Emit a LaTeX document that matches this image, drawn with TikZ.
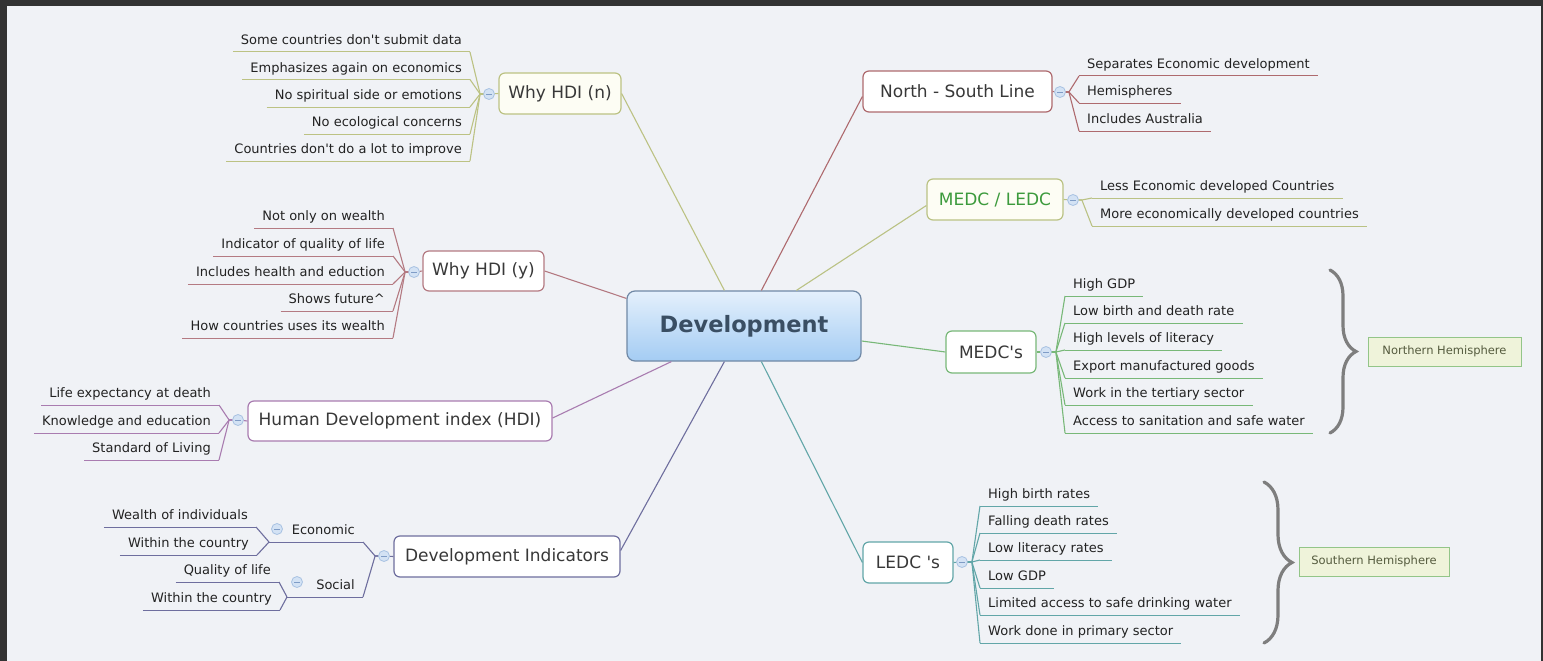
\documentclass[tikz,border=0pt]{standalone}
\usepackage{fontspec}
\setmainfont{DejaVu Sans}
\usetikzlibrary{decorations.pathreplacing,calc}
\newcommand{\apo}{\textquotesingle}
\definecolor{bg}{HTML}{F0F2F6}
\definecolor{framec}{HTML}{333333}
\definecolor{cN}{HTML}{BCC283}
\definecolor{cY}{HTML}{B47A82}
\definecolor{cH}{HTML}{A97CB0}
\definecolor{cI}{HTML}{6E6E9E}
\definecolor{cS}{HTML}{AE6A6E}
\definecolor{cM}{HTML}{BAC284}
\definecolor{cG}{HTML}{78B878}
\definecolor{cT}{HTML}{62A6A8}
\definecolor{btnfill}{HTML}{D3E2F4}
\definecolor{btnline}{HTML}{A8C2E2}
\definecolor{btndash}{HTML}{7F9CC6}
\definecolor{txt}{HTML}{222222}
\definecolor{boxtxt}{HTML}{383838}
\definecolor{devtxt}{HTML}{3A4E63}
\definecolor{devtop}{HTML}{E4F0FC}
\definecolor{devbot}{HTML}{A4CCF3}
\definecolor{devline}{HTML}{7089A6}
\definecolor{cream}{HTML}{FDFDF4}
\definecolor{hemfill}{HTML}{EFF3DA}
\definecolor{hemline}{HTML}{93C588}
\definecolor{hemtxt}{HTML}{555B3E}
\definecolor{bracec}{HTML}{7E7E7E}
\definecolor{medctxt}{HTML}{3C9A3C}
\tikzset{
  topicbox/.style={draw=#1, line width=1.2pt, rounded corners=6pt, fill=white, text=boxtxt,
    font=\fontsize{17}{20}\selectfont, inner sep=0pt, align=center},
  leafL/.style={anchor=south east, inner xsep=8pt, inner ysep=3pt, text height=10pt, text depth=4pt,
    font=\fontsize{13}{15}\selectfont, text=txt},
  leafR/.style={leafL, anchor=south west},
  btn/.style={circle, draw=btnline, fill=btnfill, line width=0.8pt, minimum size=11pt, inner sep=0pt,
    path picture={\draw[btndash, line width=0.9pt]
      ([xshift=-3pt]path picture bounding box.center) -- ([xshift=3pt]path picture bounding box.center);}},
  conn/.style={draw=#1, line width=1.1pt, line join=round},
  uline/.style={draw=#1, line width=1pt},
  hemi/.style={draw=hemline, fill=hemfill, line width=1pt, text=hemtxt,
    font=\fontsize{11.5}{13}\selectfont, inner sep=0pt},
  bracestyle/.style={draw=bracec, line width=3.2pt, line cap=round, decorate, decoration={brace, amplitude=#1}}
}
\begin{document}
\begin{tikzpicture}[x=1pt,y=-1pt]
% background and frame
\fill[bg] (0,0) rectangle (1543,661);
\fill[framec] (0,0) rectangle (1543,6);
\fill[framec] (0,0) rectangle (7,661);
\fill[framec] (1541,0) rectangle (1543,661);
\useasboundingbox (0,0) rectangle (1543,661);

% central topic
\node[draw=devline, line width=1.2pt, rounded corners=8pt, top color=devtop, bottom color=devbot,
  minimum width=234pt, minimum height=70pt, text=devtxt,
  font=\fontsize{22.5}{26}\selectfont\bfseries] (dev) at (744,326) {Development};

% main topics
\node[topicbox=cN, fill=cream, minimum width=122pt, minimum height=41pt] (whyn) at (560,93.5) {Why HDI (n)};
\node[topicbox=cY, minimum width=121pt, minimum height=40pt] (whyy) at (483.5,271) {Why HDI (y)};
\node[topicbox=cH, minimum width=304pt, minimum height=40pt] (hdi) at (400,421) {Human Development index (HDI)};
\node[topicbox=cI, minimum width=226pt, minimum height=41pt] (devind) at (507,556.5) {Development Indicators};
\node[topicbox=cS, minimum width=189pt, minimum height=41pt] (ns) at (957.5,91.5) {North - South Line};
\node[topicbox=cM, fill=cream, text=medctxt, minimum width=136pt, minimum height=41pt] (ml) at (995,199.5) {MEDC / LEDC};
\node[topicbox=cG, minimum width=90pt, minimum height=42pt] (medcs) at (991,352) {MEDC\apo s};
\node[topicbox=cT, minimum width=90pt, minimum height=41pt] (ledcs) at (908,562.5) {LEDC \apo s};

% connectors from the central topic
\draw[conn=cN] ([xshift=98pt]dev.north west) -- (whyn.east);
\draw[conn=cS] ([xshift=135pt]dev.north west) -- ([yshift=-5pt]ns.west);
\draw[conn=cM] ([xshift=170pt]dev.north west) -- ([yshift=-6pt]ml.west);
\draw[conn=cY] (whyy.east) -- ([yshift=-8pt]dev.north west);
\draw[conn=cG] ([yshift=-15pt]dev.east) -- (medcs.west);
\draw[conn=cH] ([xshift=45pt]dev.south west) -- ([yshift=3pt]hdi.east);
\draw[conn=cI] ([xshift=98pt]dev.south west) -- ([yshift=6pt]devind.east);
\draw[conn=cT] ([xshift=135pt]dev.south west) -- (ledcs.west);

% buttons
\node[btn] (bwhyn) at (489,94) {};
\node[btn] (bwhyy) at (414,272) {};
\node[btn] (bhdi) at (238,420) {};
\node[btn] (bdi) at (384,556) {};
\node[btn] (bns) at (1060,92) {};
\node[btn] (bml) at (1073,200) {};
\node[btn] (bmedcs) at (1046,352) {};
\node[btn] (bledcs) at (962,562) {};
\draw[conn=cN] (bwhyn) -- (whyn.west);
\draw[conn=cY] (bwhyy) -- (whyy.west);
\draw[conn=cH] (bhdi) -- (hdi.west);
\draw[conn=cI] (bdi) -- (devind.west);
\draw[conn=cS] (bns) -- (ns.east);
\draw[conn=cM] (bml) -- (ml.east);
\draw[conn=cG] (bmedcs) -- (medcs.east);
\draw[conn=cT] (bledcs) -- (ledcs.east);

% Why HDI (n) leaves
\foreach \u/\t [count=\i] in {52/Some countries don\apo t submit data, 79.5/Emphasizes again on economics,
  107/No spiritual side or emotions, 134/No ecological concerns, 161/Countries don\apo t do a lot to improve}{
  \node[leafL] (n\i) at (470,\u) {\t};
  \draw[uline=cN] (n\i.south west) -- (n\i.south east);
  \draw[conn=cN] (bwhyn.west) -- ++(-3,0) -- (n\i.south east);
}

% Why HDI (y) leaves
\foreach \u/\t [count=\i] in {228/Not only on wealth, 256/Indicator of quality of life,
  284/Includes health and eduction, 311/Shows future\textasciicircum, 338/How countries uses its wealth}{
  \node[leafL] (y\i) at (393,\u) {\t};
  \draw[uline=cY] (y\i.south west) -- (y\i.south east);
  \draw[conn=cY] (bwhyy.west) -- ++(-3,0) -- (y\i.south east);
}

% HDI leaves
\foreach \u/\t [count=\i] in {405/Life expectancy at death, 433/Knowledge and education, 460/Standard of Living}{
  \node[leafL] (h\i) at (219,\u) {\t};
  \draw[uline=cH] (h\i.south west) -- (h\i.south east);
  \draw[conn=cH] (bhdi.west) -- ++(-3,0) -- (h\i.south east);
}

% Development Indicators subtopics
\node[leafL] (eco) at (363,542) {Economic};
\node[leafL] (soc) at (363,597) {Social};
\coordinate (ecoL) at (269,542);
\coordinate (socL) at (287,597);
\draw[uline=cI] (ecoL) -- (eco.south east);
\draw[uline=cI] (socL) -- (soc.south east);
\draw[conn=cI] (bdi.west) -- ++(-3,0) -- (eco.south east);
\draw[conn=cI] (bdi.west) -- ++(-3,0) -- (soc.south east);
\node[btn] (beco) at (277,529) {};
\node[btn] (bsoc) at (297,582) {};
\node[leafL] (e1) at (256,527) {Wealth of individuals};
\node[leafL] (e2) at (257,555) {Within the country};
\node[leafL] (s1) at (279,582) {Quality of life};
\node[leafL] (s2) at (280,610) {Within the country};
\foreach \n in {e1,e2}{
  \draw[uline=cI] (\n.south west) -- (\n.south east);
  \draw[conn=cI] (ecoL) -- (\n.south east);
}
\foreach \n in {s1,s2}{
  \draw[uline=cI] (\n.south west) -- (\n.south east);
  \draw[conn=cI] (socL) -- (\n.south east);
}

% North - South Line leaves
\foreach \u/\t [count=\i] in {76/Separates Economic development, 103/Hemispheres, 131/Includes Australia}{
  \node[leafR] (r\i) at (1079,\u) {\t};
  \draw[uline=cS] (r\i.south west) -- (r\i.south east);
  \draw[conn=cS] (bns.east) -- ++(3,0) -- (r\i.south west);
}

% MEDC / LEDC leaves
\foreach \u/\t [count=\i] in {198/Less Economic developed Countries, 226/More economically developed countries}{
  \node[leafR] (m\i) at (1092,\u) {\t};
  \draw[uline=cM] (m\i.south west) -- (m\i.south east);
  \draw[conn=cM] (bml.east) -- ++(3,0) -- (m\i.south west);
}

% MEDC's leaves
\foreach \u/\t [count=\i] in {296/High GDP, 323/Low birth and death rate, 350/High levels of literacy,
  378/Export manufactured goods, 405/Work in the tertiary sector, 433/Access to sanitation and safe water}{
  \node[leafR] (g\i) at (1065,\u) {\t};
  \draw[uline=cG] (g\i.south west) -- (g\i.south east);
  \draw[conn=cG] (bmedcs.east) -- ++(4,0) -- (g\i.south west);
}

% LEDC's leaves
\foreach \u/\t [count=\i] in {506/High birth rates, 533/Falling death rates, 560/Low literacy rates,
  588/Low GDP, 615/Limited access to safe drinking water, 643/Work done in primary sector}{
  \node[leafR] (t\i) at (980,\u) {\t};
  \draw[uline=cT] (t\i.south west) -- (t\i.south east);
  \draw[conn=cT] (bledcs.east) -- ++(4,0) -- (t\i.south west);
}

% braces and hemisphere labels
\draw[bracestyle=26pt] (1330,270) -- (1330,433);
\draw[bracestyle=28pt] (1264,482) -- (1264,643);
\node[hemi, minimum width=153pt, minimum height=29pt] (nh) at (1444.5,351.5) {Northern Hemisphere};
\node[hemi, minimum width=150pt, minimum height=29pt] (sh) at (1374,561.5) {Southern Hemisphere};
\end{tikzpicture}
\end{document}
